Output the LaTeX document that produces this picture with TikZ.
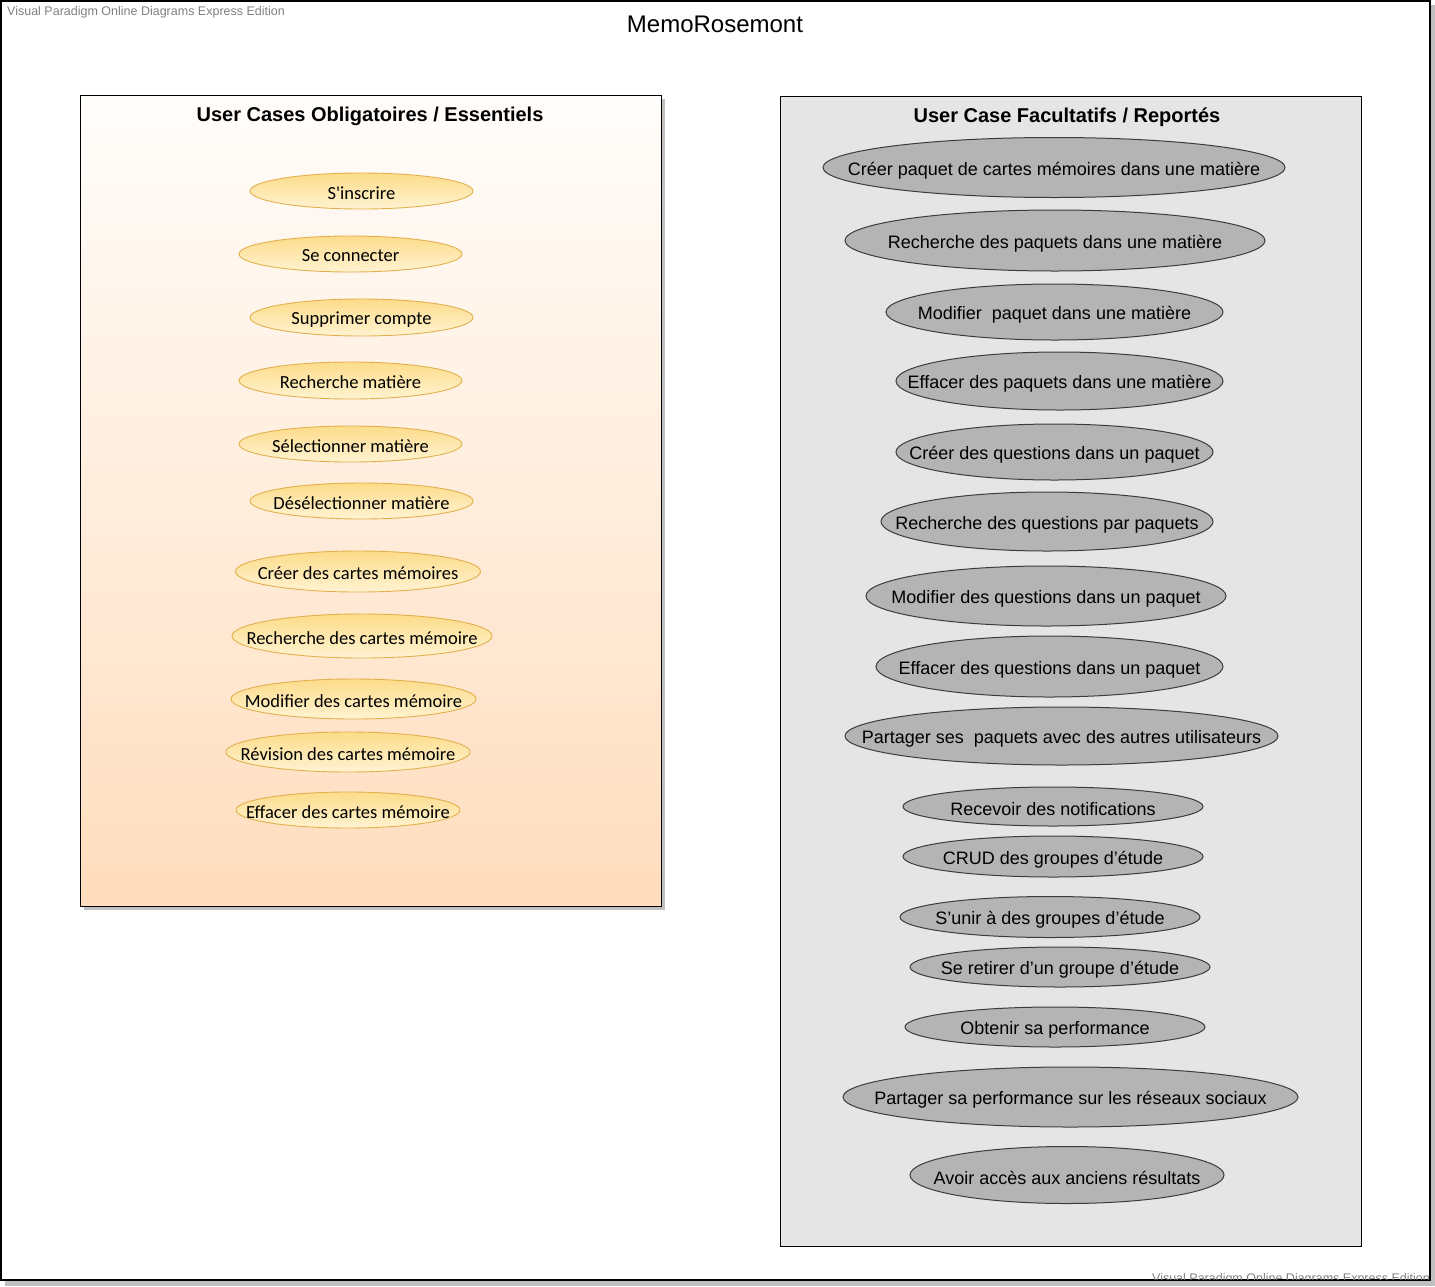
\documentclass[tikz,border=0pt]{standalone}
\usepackage{fontspec}
\setmainfont{Liberation Sans}
\newfontfamily\carl{Carlito}
\usetikzlibrary{shapes.geometric}
\definecolor{wm}{HTML}{808080}
\definecolor{shad}{HTML}{C0C0C0}
\definecolor{peachtop}{HTML}{FFFDFB}
\definecolor{peachbot}{HTML}{FFDDBD}
\definecolor{ucytop}{HTML}{FDDC8A}
\definecolor{ucybot}{HTML}{FFF3D2}
\definecolor{ucyline}{HTML}{E2B04C}
\definecolor{grayfill}{HTML}{E5E5E5}
\definecolor{ucgfill}{HTML}{B4B4B4}
\definecolor{ucgline}{HTML}{3C3C3C}
\tikzset{
  ucy/.style={ellipse, draw=ucyline, line width=0.9pt, top color=ucytop, bottom color=ucybot,
    inner sep=0pt,
    label={[anchor=base, yshift=-2pt, inner sep=0pt, font=\carl\fontsize{18.5}{20}\selectfont, text=black]center:#1}},
  ucg/.style={ellipse, draw=ucgline, line width=1pt, fill=ucgfill,
    inner sep=0pt,
    label={[anchor=base, yshift=-3pt, inner sep=0pt, font=\fontsize{18}{20}\selectfont, text=black]center:#1}},
  boxtitle/.style={font=\bfseries\fontsize{20}{22}\selectfont, inner sep=0pt, anchor=base},
  wmark/.style={text=wm, font=\fontsize{12.5}{14}\selectfont, inner sep=0pt}
}
\begin{document}
\begin{tikzpicture}[x=1pt,y=-1pt]
\useasboundingbox (0,0) rectangle (1435,1286);
% outer frame
\fill[shad] (5,5) rectangle (1435,1286);
\draw[line width=2pt, fill=white] (1,1) rectangle (1430,1280);
\node[wmark, anchor=west] (wm1) at (7,12) {Visual Paradigm Online Diagrams Express Edition};
\begin{scope}
\clip (0,0) rectangle (1429,1279);
\node[wmark, anchor=base east] (wm2) at (1430,1282) {Visual Paradigm Online Diagrams Express Edition};
\end{scope}
\node[font=\fontsize{24}{26}\selectfont, inner sep=0pt, anchor=base] (title) at (715,32) {MemoRosemont};
% left box
\fill[shad] (84,99) rectangle (665,910);
\draw[line width=1pt, top color=peachtop, bottom color=peachbot] (80,95) rectangle (661,906);
\node[boxtitle] (lt) at (370,121) {User Cases Obligatoires / Essentiels};
% right box
\draw[line width=1pt, fill=grayfill] (780,96) rectangle (1361,1246);
\node[boxtitle] (rt) at (1067,122) {User Case Facultatifs / Reportés};
% left use cases
\node[ucy={S'inscrire}, minimum width=223, minimum height=36] (l1) at (361.5,191) {};
\node[ucy={Se connecter}, minimum width=223, minimum height=36] (l2) at (350.5,254) {};
\node[ucy={Supprimer compte}, minimum width=223, minimum height=37] (l3) at (361.5,317.5) {};
\node[ucy={Recherche matière}, minimum width=223, minimum height=37] (l4) at (350.5,380.5) {};
\node[ucy={Sélectionner matière}, minimum width=223, minimum height=36] (l5) at (350.5,444) {};
\node[ucy={Désélectionner matière}, minimum width=223, minimum height=36] (l6) at (361.5,501) {};
\node[ucy={Créer des cartes mémoires}, minimum width=245, minimum height=41] (l7) at (358,571.5) {};
\node[ucy={Recherche des cartes mémoire}, minimum width=260, minimum height=44] (l8) at (362,636) {};
\node[ucy={Modifier des cartes mémoire}, minimum width=245, minimum height=40] (l9) at (353.5,699) {};
\node[ucy={Révision des cartes mémoire}, minimum width=244, minimum height=40] (l10) at (348,752) {};
\node[ucy={Effacer des cartes mémoire}, minimum width=224, minimum height=36] (l11) at (348,810) {};
% right use cases
\node[ucg={Créer paquet de cartes mémoires dans une matière}, minimum width=462, minimum height=60] (r1) at (1054,167.5) {};
\node[ucg={Recherche des paquets dans une matière}, minimum width=420, minimum height=61] (r2) at (1055,240.5) {};
\node[ucg={Modifier\ \ paquet dans une matière}, minimum width=337, minimum height=56] (r3) at (1054.5,312) {};
\node[ucg={Effacer des paquets dans une matière}, minimum width=327, minimum height=58] (r4) at (1059.5,381) {};
\node[ucg={Créer des questions dans un paquet}, minimum width=317, minimum height=56] (r5) at (1054.5,452) {};
\node[ucg={Recherche des questions par paquets}, minimum width=332, minimum height=59] (r6) at (1047,521.5) {};
\node[ucg={Modifier des questions dans un paquet}, minimum width=360, minimum height=60] (r7) at (1046,596) {};
\node[ucg={Effacer des questions dans un paquet}, minimum width=347, minimum height=61] (r8) at (1049.5,666.5) {};
\node[ucg={Partager ses\ \ paquets avec des autres utilisateurs}, minimum width=433, minimum height=58] (r9) at (1061.5,736) {};
\node[ucg={Recevoir des notifications}, minimum width=300, minimum height=39] (r10) at (1053,806.5) {};
\node[ucg={CRUD des groupes d'étude}, minimum width=300, minimum height=41] (r11) at (1053,856.5) {};
\node[ucg={S'unir à des groupes d'étude}, minimum width=300, minimum height=41] (r12) at (1050,917) {};
\node[ucg={Se retirer d'un groupe d'étude}, minimum width=300, minimum height=40] (r13) at (1060,967) {};
\node[ucg={Obtenir sa performance}, minimum width=300, minimum height=40] (r14) at (1055,1027) {};
\node[ucg={Partager sa performance sur les réseaux sociaux}, minimum width=455, minimum height=60] (r15) at (1070.5,1097) {};
\node[ucg={Avoir accès aux anciens résultats}, minimum width=314, minimum height=57] (r16) at (1067,1175) {};
\end{tikzpicture}
\end{document}
